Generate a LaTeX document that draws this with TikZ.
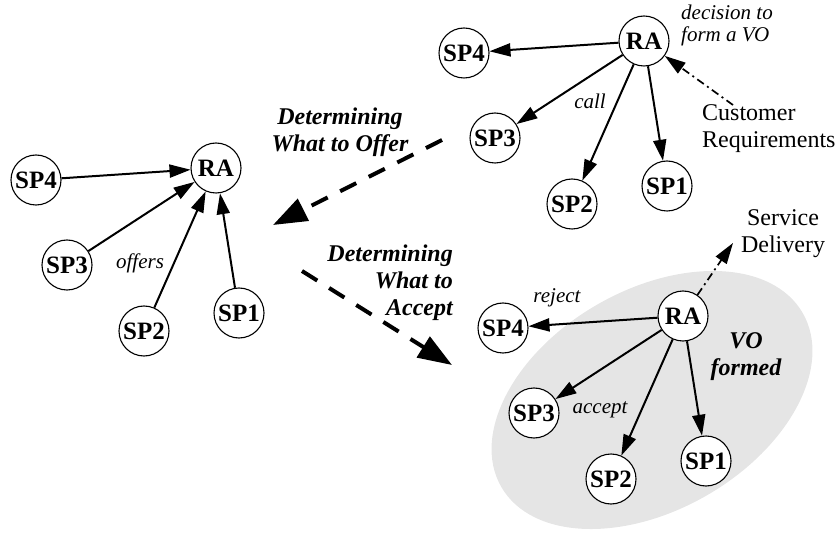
\documentclass[tikz,border=0pt]{standalone}
\usepackage{fontspec}
\setmainfont{Liberation Serif}
\usetikzlibrary{arrows.meta}
\definecolor{vogray}{gray}{0.9}
\begin{document}
\begin{tikzpicture}[x=1pt,y=-1pt,
  agent/.style={circle,draw,line width=1.1pt,fill=white,minimum size=50pt,inner sep=0pt,font=\fontsize{25}{25}\selectfont\bfseries},
  link/.style={line width=2pt,-{Triangle[length=21pt,width=13pt]}},
  hint/.style={inner sep=0pt,font=\fontsize{21}{22}\selectfont\itshape},
  phasetext/.style={inner sep=0pt,font=\fontsize{24}{27}\selectfont\bfseries\itshape},
  phase/.style={line width=4pt,dash pattern=on 18pt off 14pt,-{Triangle[length=34pt,width=24pt]}},
  ext/.style={line width=1.7pt,dash pattern=on 8pt off 4pt on 2pt off 4pt,-{Triangle[length=21pt,width=13pt]}},
  note/.style={inner sep=0pt,font=\fontsize{24}{27}\selectfont}]
\useasboundingbox (0,0) rectangle (840,534);
\def\team#1#2#3{
\node[agent] (#1ra) at (#2,#3) {RA};
\node[agent] (#1sp4) at (#2-180,#3+12) {SP4};
\node[agent] (#1sp3) at (#2-149,#3+97) {SP3};
\node[agent] (#1sp2) at (#2-72,#3+163) {SP2};
\node[agent] (#1sp1) at (#2+23,#3+145) {SP1};
}
\fill[vogray,rotate around={30:(652,400)}] (652,400) ellipse [x radius=174,y radius=110];
\team{t}{644}{41}
\team{l}{216}{168}
\team{b}{683}{316}
\foreach \s in {sp1,sp2,sp3,sp4} \draw[link] (tra) -- (t\s);
\foreach \s in {sp1,sp2,sp3,sp4} \draw[link] (l\s) -- (lra);
\foreach \s in {sp1,sp2,sp3,sp4} \draw[link] (bra) -- (b\s);
\node[hint,align=left,anchor=west] (decide) at (681,25) {decision to\\form a VO};
\node[hint] (call) at (590,101) {call};
\node[hint] (offers) at (140,263) {offers};
\node[hint] (reject) at (557,298) {reject};
\node[hint] (accept) at (600,410) {accept};
\node[phasetext,align=center] (formed) at (746,357) {VO\\formed};
\node[note,align=left,anchor=west] (cust) at (702,129) {Customer\\Requirements};
\node[note,align=center] (deliv) at (783,234) {Service\\Delivery};
\node[phasetext,align=center] (offer) at (340,132) {Determining\\What to Offer};
\node[phasetext,align=right,anchor=east] (acc) at (453,283) {Determining\\What to\\Accept};
\coordinate (crtail) at (733,105);
\coordinate (sdtip) at (733,243);
\draw[ext] (crtail) -- (tra);
\draw[ext] (bra) -- (sdtip);
\coordinate (o1) at (442,140);
\coordinate (o2) at (273,225);
\coordinate (a1) at (302,271);
\coordinate (a2) at (452,365);
\draw[phase] (o1) -- (o2);
\draw[phase] (a1) -- (a2);
\end{tikzpicture}
\end{document}
